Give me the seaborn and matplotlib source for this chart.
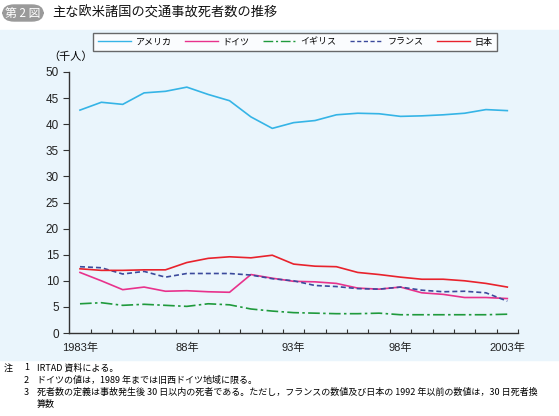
import pandas as pd
import numpy as np
import seaborn as sns
import matplotlib.pyplot as plt
from matplotlib.patches import FancyBboxPatch, Rectangle

years = list(range(1983, 2004))
usa = [42.7, 44.2, 43.8, 46.0, 46.3, 47.1, 45.7, 44.5, 41.4, 39.2, 40.3,
       40.7, 41.8, 42.1, 42.0, 41.5, 41.6, 41.8, 42.1, 42.8, 42.6]
germany = [11.6, 10.0, 8.3, 8.8, 8.0, 8.1, 7.9, 7.8, 11.2, 10.5, 9.9,
           9.8, 9.5, 8.6, 8.4, 8.8, 7.7, 7.4, 6.8, 6.8, 6.6]
uk = [5.6, 5.8, 5.3, 5.5, 5.3, 5.1, 5.6, 5.4, 4.6, 4.2, 3.9,
      3.8, 3.7, 3.7, 3.8, 3.5, 3.5, 3.5, 3.5, 3.5, 3.6]
france = [12.7, 12.5, 11.3, 11.8, 10.7, 11.4, 11.4, 11.4, 11.1, 10.4, 10.0,
          9.1, 8.9, 8.5, 8.4, 8.8, 8.2, 7.9, 8.0, 7.7, 6.1]
japan = [12.3, 12.0, 12.0, 12.1, 12.1, 13.5, 14.3, 14.6, 14.4, 14.9, 13.2,
         12.8, 12.7, 11.6, 11.2, 10.7, 10.3, 10.3, 10.0, 9.5, 8.8]
countries = ['アメリカ', 'ドイツ', 'イギリス', 'フランス', '日本']
year_labels = {1983: '1983年', 1988: '88年', 1993: '93年', 1998: '98年', 2003: '2003年'}
notes = [
    ('注', '1', 'IRTAD 資料による。'),
    ('', '2', 'ドイツの値は，1989 年までは旧西ドイツ地域に限る。'),
    ('', '3', '死者数の定義は事故発生後 30 日以内の死者である。ただし，フランスの数値及び日本の 1992 年以前の数値は，30 日死者換'),
    ('', '', '算数'),
]

series = dict(zip(countries, [usa, germany, uk, france, japan]))
rows = []
for name, vals in series.items():
    for y, v in zip(years, vals):
        rows.append({'year': y, 'value': v, 'country': name})
df = pd.DataFrame(rows)

palette = {'アメリカ': '#35b4e6', 'ドイツ': '#e8328c', 'イギリス': '#1f9a3c',
           'フランス': '#3b4a9c', '日本': '#e8222c'}
dashes = {'アメリカ': '', 'ドイツ': '', 'イギリス': (7, 2, 1.5, 2),
          'フランス': (3, 1.8), '日本': ''}

plt.rcParams['font.family'] = ['Liberation Sans', 'Noto Sans CJK JP']
bg = '#eaf5fc'
fig = plt.figure(figsize=(5.59, 4.16), dpi=100)
fig.patches.append(Rectangle((0, (416 - 360) / 416), 1, (360 - 30) / 416,
                             transform=fig.transFigure, color=bg, zorder=-10))

ax = fig.add_axes([69.3 / 559, (416 - 333) / 416, (518 - 69.3) / 559, (333 - 72) / 416])
ax.set_facecolor('none')
sns.lineplot(data=df, x='year', y='value', hue='country', style='country',
             palette=palette, dashes=dashes, hue_order=countries, style_order=countries,
             linewidth=1.2, ax=ax)

ax.set_xlim(1982.5, 2003.5)
ax.set_ylim(0, 50)
ax.set_yticks(np.arange(0, 51, 5))
ax.set_xticks(list(year_labels.keys()))
ax.set_xticklabels(list(year_labels.values()))
ax.set_xticks(np.arange(1983.5, 2004, 1), minor=True)
ax.tick_params(axis='x', which='major', length=0, pad=7, labelsize=8, colors='#222222')
ax.tick_params(axis='x', which='minor', direction='in', length=3, width=0.8, color='#333333')
ax.tick_params(axis='y', length=4, width=0.8, labelsize=8.5, colors='#222222', color='#333333')
for s in ['top', 'right']:
    ax.spines[s].set_visible(False)
for s in ['left', 'bottom']:
    ax.spines[s].set_color('#333333')
    ax.spines[s].set_linewidth(1.0)
ax.set_xlabel('')
ax.set_ylabel('')
fig.text(48 / 559, 1 - 57 / 416, '（千人）', fontsize=8, va='center', ha='left')

handles, labels = ax.get_legend_handles_labels()
ax.legend_.remove()
for h in handles:
    h.set_linewidth(1.0)
leg = fig.legend(handles, labels, ncol=5, loc='center',
                 bbox_to_anchor=(93 / 559, 1 - 53 / 416, (497 - 93) / 559, 22 / 416),
                 mode='expand', fontsize=6.5, frameon=True, fancybox=False,
                 handlelength=3.7, handletextpad=0.5, borderpad=0.5, borderaxespad=0,
                 columnspacing=1.0)
leg.get_frame().set_edgecolor('#444444')
leg.get_frame().set_linewidth(1.0)
leg.get_frame().set_facecolor('white')

# title badge
fig.patches.append(FancyBboxPatch((3 / 559, 1 - 21 / 416), 40 / 559, 16 / 416,
                                  boxstyle='round,pad=0,rounding_size=0.02',
                                  transform=fig.transFigure, color='#9a9a9a', zorder=1))
fig.text(23 / 559, 1 - 13 / 416, '第 2 図', color='white', fontsize=8.5,
         ha='center', va='center', family=['Noto Sans CJK JP'])
fig.text(52 / 559, 1 - 13 / 416, '主な欧米諸国の交通事故死者数の推移', fontsize=9.5,
         ha='left', va='center', family=['Noto Sans CJK JP'], color='#111111')

for i, (a, b, c) in enumerate(notes):
    yy = 1 - (368 + i * 12.3) / 416
    fig.text(4 / 559, yy, a, fontsize=6.5, va='center', family=['Noto Sans CJK JP'])
    fig.text(24 / 559, yy, b, fontsize=6.5, va='center', family=['Noto Sans CJK JP'])
    fig.text(37 / 559, yy, c, fontsize=6.5, va='center', family=['Noto Sans CJK JP'])

fig.savefig('out.png', dpi=100)
